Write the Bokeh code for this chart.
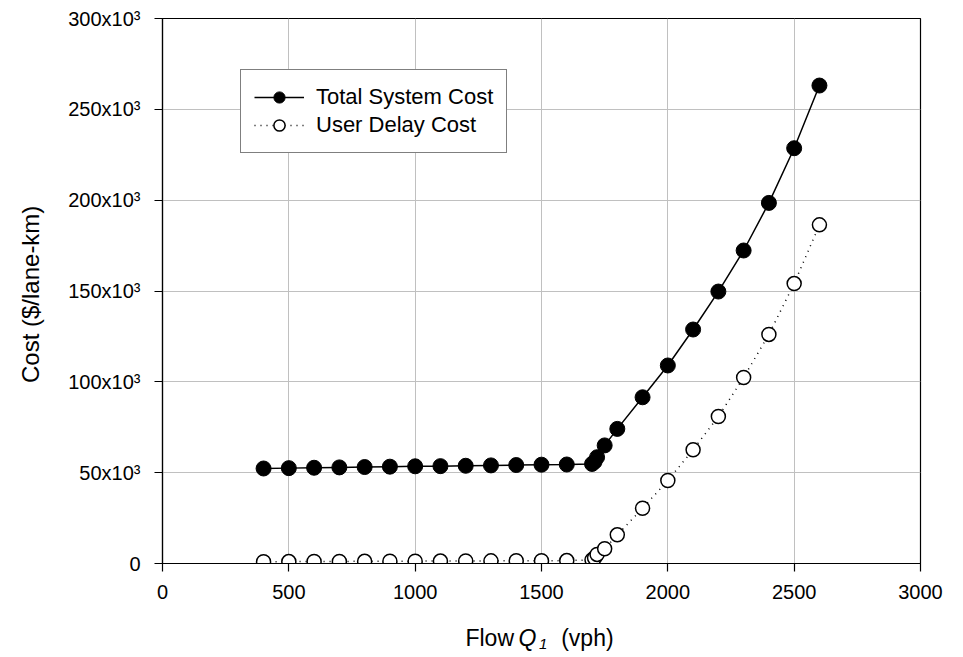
from bokeh.plotting import figure
from bokeh.layouts import column
from bokeh.models import Range1d, FixedTicker, Legend, LegendItem
from bokeh.core.properties import value
from bokeh.embed import file_html
from bokeh.resources import INLINE

# ---- data ----
flow = [400, 500, 600, 700, 800, 900, 1000, 1100, 1200, 1300, 1400, 1500, 1600,
        1700, 1710, 1720, 1750, 1800, 1900, 2000, 2100, 2200, 2300, 2400, 2500, 2600]
total_cost = [52300, 52500, 52700, 52900, 53100, 53300, 53500, 53600, 53800, 54000,
              54200, 54400, 54500, 54800, 56000, 58500, 65000, 74100, 91500, 109000,
              128800, 149700, 172300, 198500, 228600, 263100]
user_cost = [1000, 1050, 1100, 1150, 1200, 1250, 1300, 1350, 1400, 1450, 1500, 1550,
             1600, 2000, 3000, 5000, 8100, 15800, 30400, 45700, 62600, 80900, 102400,
             126100, 154100, 186400]

x_ticks = [0, 500, 1000, 1500, 2000, 2500, 3000]
y_ticks = [0, 50000, 100000, 150000, 200000, 250000, 300000]
y_tick_labels = ["0", "50x10³", "100x10³", "150x10³", "200x10³", "250x10³", "300x10³"]

FONT = "Liberation Sans"

p = figure(width=963, height=620, output_backend="svg", toolbar_location=None,
           x_range=Range1d(0, 3000), y_range=Range1d(0, 300000),
           min_border_left=162, min_border_right=43, min_border_top=18,
           min_border_bottom=57)
p.background_fill_color = "white"
p.border_fill_color = "white"
p.outline_line_color = "black"
p.outline_line_width = 1.2

for ax in (p.xaxis[0], p.yaxis[0]):
    ax.minor_tick_line_color = None
    ax.major_tick_in = 0
    ax.major_tick_out = 8
    ax.axis_line_color = "black"
    ax.axis_line_width = 1.2
    ax.major_tick_line_color = "black"
    ax.major_tick_line_width = 1.2
    ax.major_label_text_font = FONT
    ax.major_label_text_font_size = "20px"
    ax.major_label_text_color = "black"

p.xaxis.ticker = FixedTicker(ticks=x_ticks)
p.yaxis.ticker = FixedTicker(ticks=y_ticks)
p.yaxis.major_label_overrides = {t: l for t, l in zip(y_ticks, y_tick_labels)}
p.xaxis.major_label_standoff = 13
p.yaxis.major_label_standoff = 14

p.yaxis.axis_label = "Cost  ($/lane-km)"
p.yaxis.axis_label_text_font = FONT
p.yaxis.axis_label_text_font_size = "24px"
p.yaxis.axis_label_text_font_style = "normal"
p.yaxis.axis_label_text_color = "black"
p.yaxis.axis_label_standoff = 21

p.xgrid.ticker = FixedTicker(ticks=x_ticks)
p.ygrid.ticker = FixedTicker(ticks=y_ticks)
p.grid.grid_line_color = "#c0c0c0"
p.grid.grid_line_width = 1

l1 = p.line(flow, total_cost, line_color="black", line_width=1.5)
s1 = p.scatter(flow, total_cost, marker="circle", size=15, fill_color="black",
               line_color="black")
l2 = p.line(flow, user_cost, line_color="black", line_width=1.5, line_dash="1 5")
s2 = p.scatter(flow, user_cost, marker="circle", size=14, fill_color="white",
               line_color="black", line_width=1.5)

legend = Legend(items=[LegendItem(label="Total System Cost", renderers=[l1, s1]),
                       LegendItem(label="User Delay Cost", renderers=[l2, s2])],
                location=(78, 410))
legend.border_line_color = "black"
legend.border_line_width = 1
legend.background_fill_color = "white"
legend.background_fill_alpha = 1
legend.padding = 13
legend.spacing = 0
legend.margin = 0
legend.label_height = 28
legend.glyph_height = 28
legend.glyph_width = 50
legend.label_standoff = 12
legend.label_text_font = FONT
legend.label_text_font_size = "22px"
legend.label_text_color = "black"
p.add_layout(legend)

# ---- x axis title strip (Q1 italic with subscript); frame aligns with p's frame ----
p2 = figure(width=963, height=37, output_backend="svg", toolbar_location=None,
            title=None, x_range=p.x_range, y_range=Range1d(0, 37),
            x_axis_location=None, y_axis_location=None, min_border=0)
p2.min_border_left = p2.min_border_right = p2.min_border_top = p2.min_border_bottom = 0
p2.outline_line_color = None
p2.grid.visible = False
p2.background_fill_color = "white"
p2.border_fill_color = "white"

def xlab(x, y, text, size="23px", style="normal"):
    p2.text(x=[x], y=[y], text=[text], text_align="left", text_baseline="alphabetic",
            text_font=value(FONT), text_font_style=style, text_font_size=value(size),
            text_color="black")

xlab(1199, 20, "Flow")
xlab(1409, 20, "Q", style="italic")
xlab(1490, 14, "1", size="15px", style="italic")
xlab(1578, 20, "(vph)")

layout = column(p, p2, spacing=0)
open("out.html", "w").write(file_html(layout, INLINE))
